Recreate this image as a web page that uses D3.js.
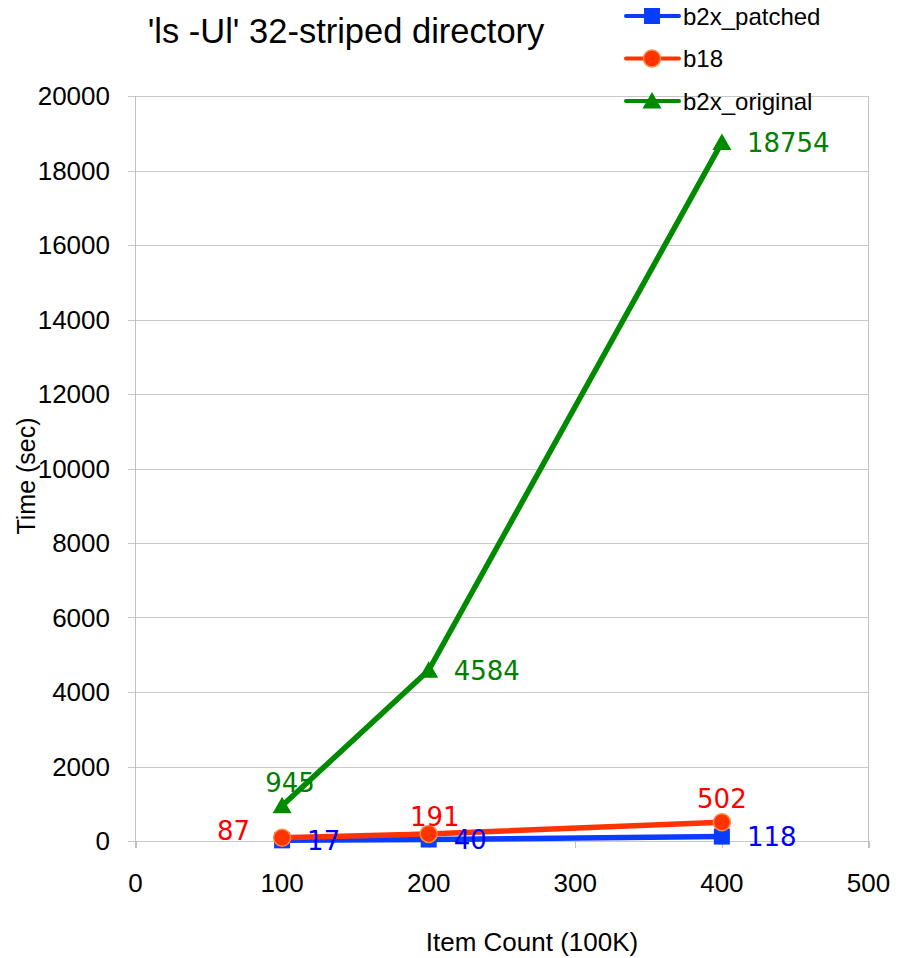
<!DOCTYPE html>
<html><head><meta charset="utf-8">
<script src="https://cdn.jsdelivr.net/npm/d3@7"></script>
<style>body{margin:0;background:#fff}</style>
</head><body>
<svg id="c" width="909" height="958"></svg>
<script>
const itemCounts = [100, 200, 400];
const b2xPatched = [17, 40, 118];
const b18 = [87, 191, 502];
const b2xOriginal = [945, 4584, 18754];
const yTicks = [0,2000,4000,6000,8000,10000,12000,14000,16000,18000,20000];
const xTicks = [0,100,200,300,400,500];

const series = [
  {name:"b2x_patched", values:b2xPatched, line:"#0a3cff", label:"#0000ff", marker:"square",
   pos:["right","right","right"]},
  {name:"b18", values:b18, line:"#ff3300", label:"#ff0000", marker:"circle",
   pos:["left","top","top"]},
  {name:"b2x_original", values:b2xOriginal, line:"#008a00", label:"#008000", marker:"triangle",
   pos:["top","right","right"]}
];

const svg = d3.select("#c");
const x = d3.scaleLinear().domain([0,500]).range([135.5,868.5]);
const y = d3.scaleLinear().domain([0,20000]).range([841,96]);
const font = "'Liberation Sans', Arial, sans-serif";

// gridlines
svg.append("g").selectAll("line").data(yTicks).join("line")
  .attr("x1",128).attr("x2",868.5).attr("y1",d=>Math.round(y(d))+0.5).attr("y2",d=>Math.round(y(d))+0.5)
  .attr("stroke","#c8c8c8").attr("stroke-width",1);
svg.append("line").attr("x1",135.5).attr("x2",135.5).attr("y1",96).attr("y2",848).attr("stroke","#c0c0c0");
svg.append("line").attr("x1",868.5).attr("x2",868.5).attr("y1",96).attr("y2",848).attr("stroke","#c0c0c0");
svg.append("g").selectAll("line").data(xTicks).join("line")
  .attr("x1",d=>Math.round(x(d))+0.5).attr("x2",d=>Math.round(x(d))+0.5).attr("y1",841).attr("y2",848)
  .attr("stroke","#c0c0c0");

// tick labels
svg.append("g").selectAll("text").data(yTicks).join("text")
  .attr("x",110).attr("y",d=>y(d)).attr("dy","0.36em").attr("text-anchor","end")
  .attr("font-family",font).attr("font-size",26).attr("fill","#000").text(d=>d);
svg.append("g").selectAll("text").data(xTicks).join("text")
  .attr("x",d=>x(d)).attr("y",892).attr("text-anchor","middle")
  .attr("font-family",font).attr("font-size",26).attr("fill","#000").text(d=>d);

// titles
svg.append("text").attr("x",346).attr("y",43).attr("text-anchor","middle")
  .attr("font-family",font).attr("font-size",34.5).text("'ls -Ul' 32-striped directory");
svg.append("text").attr("transform","translate(35,476) rotate(-90)").attr("text-anchor","middle")
  .attr("font-family",font).attr("font-size",25).text("Time (sec)");
svg.append("text").attr("x",532).attr("y",951).attr("text-anchor","middle")
  .attr("font-family",font).attr("font-size",26).text("Item Count (100K)");

function drawMarker(g, type, cx, cy, color){
  if(type==="square"){
    g.append("rect").attr("x",cx-8).attr("y",cy-8).attr("width",16).attr("height",16).attr("fill",color);
  } else if(type==="circle"){
    g.append("circle").attr("cx",cx).attr("cy",cy).attr("r",8.5).attr("fill","#ff3300").attr("stroke","#ff8a40").attr("stroke-width",1.5);
  } else {
    g.append("path").attr("d",`M${cx},${cy-9}L${cx+9.5},${cy+7.5}L${cx-9.5},${cy+7.5}Z`).attr("fill",color);
  }
}

const line = d3.line().x((d,i)=>x(itemCounts[i])).y(d=>y(d));
const order = [series[2], series[0], series[1]];
order.forEach(s=>{
  const g = svg.append("g");
  g.append("path").attr("d",line(s.values)).attr("fill","none").attr("stroke",s.line).attr("stroke-width",5.5).attr("stroke-linejoin","round");
  s.values.forEach((v,i)=>drawMarker(g,s.marker,x(itemCounts[i]),y(v),s.line));
});

// data labels
const lf = "'DejaVu Sans', Verdana, sans-serif";
series.forEach(s=>{
  s.values.forEach((v,i)=>{
    const p = s.pos[i];
    const cx = x(itemCounts[i]), cy = y(v);
    const t = svg.append("text").attr("font-family",lf).attr("font-size",26).attr("fill",s.label).text(v);
    if(p==="right") t.attr("x",cx+25).attr("y",cy).attr("dy","0.36em");
    else if(p==="left") t.attr("x",cx-32).attr("y",cy-7).attr("dy","0.36em").attr("text-anchor","end");
    else t.attr("x",cx + (i===0?8:(i===1?6:0))).attr("y",cy-(i===1?8:14)).attr("text-anchor","middle");
  });
});

// legend
const lg = svg.append("g");
series.forEach((s,i)=>{
  const ly = 16 + i*42.5;
  lg.append("line").attr("x1",626).attr("x2",679).attr("y1",ly).attr("y2",ly).attr("stroke",s.line).attr("stroke-width",4).attr("stroke-linecap","round");
  drawMarker(lg,s.marker,652,ly,s.line);
  lg.append("text").attr("x",683).attr("y",ly).attr("dy","0.36em").attr("font-family",font).attr("font-size",24).text(s.name);
});
</script>
</body></html>
